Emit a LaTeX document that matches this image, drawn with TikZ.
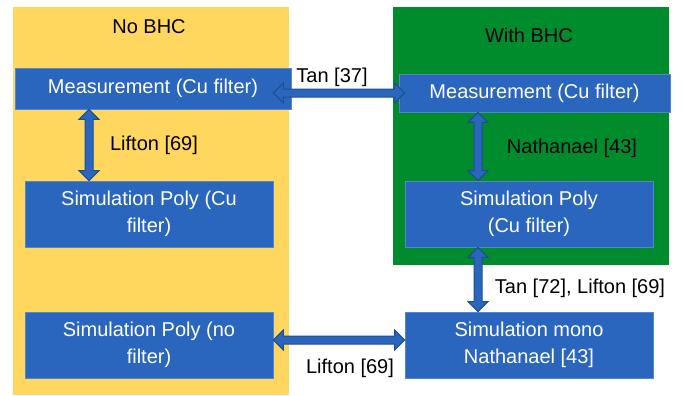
\documentclass[tikz,border=0pt]{standalone}
\usepackage{fontspec}
\setmainfont{Liberation Sans}
\usepackage{tikz}
\usetikzlibrary{calc}
\definecolor{boxblue}{HTML}{2A66BE}
\definecolor{edgeblue}{HTML}{1F4E8F}
\definecolor{panelyellow}{HTML}{FFD75F}
\definecolor{panelgreen}{HTML}{008C2C}
\newcommand{\dblarrow}[2]{%
\coordinate (p) at ($(#1)!5pt!(#2)$);
\coordinate (q) at ($(#2)!5pt!(#1)$);
\filldraw[bigarrow] (#1) -- ($(p)!5pt!90:(#1)$) -- ($(p)!2pt!90:(#1)$) -- ($(q)!2pt!-90:(#2)$) -- ($(q)!5pt!-90:(#2)$) -- (#2) -- ($(q)!5pt!90:(#2)$) -- ($(q)!2pt!90:(#2)$) -- ($(p)!2pt!-90:(#1)$) -- ($(p)!5pt!-90:(#1)$) -- cycle;}

\begin{document}
\begin{tikzpicture}[x = 0.5pt, y = -0.5pt,
  font = \fontsize{10}{13.5}\selectfont,
  box/.style = {fill = boxblue, draw = boxblue!80!white, line width = 0.3pt, text = white, align = center, inner sep = 0pt, minimum width = 124pt, minimum height = 33pt},
  bigarrow/.style = {fill = boxblue, draw = edgeblue, line width = 0.5pt, line join = miter},
  tag/.style = {inner sep = 0pt}]
\useasboundingbox (0, 0) rectangle (686, 396);
\fill[panelyellow] (13, 7) rectangle (289, 395);
\fill[panelgreen] (393, 7) rectangle (669, 265);
\node[tag] (nobhc) at (149, 27) {No BHC};
\node[tag] (withbhc) at (529, 35) {With BHC};
\node[box, minimum width = 138pt, minimum height = 20.5pt] (lmeas) at (153, 88.5) {Measurement (Cu filter)};
\node[box, minimum width = 135.5pt, minimum height = 19pt] (rmeas) at (534.5, 93) {Measurement (Cu filter)};
\node[box] (lsim) at (149, 214) {Simulation Poly (Cu\\filter)};
\node[box] (rsim) at (529, 214) {Simulation Poly\\(Cu filter)};
\node[box] (lnof) at (149, 345) {Simulation Poly (no\\filter)};
\node[box] (mono) at (529, 345) {Simulation mono\\Nathanael [43]};
\coordinate (a1) at ([xshift = -32pt]lmeas.south);
\dblarrow{a1}{a1 |- lsim.north}
\coordinate (a2) at ([xshift = -25.5pt]rsim.north);
\dblarrow{a2 |- rmeas.south}{a2}
\coordinate (a3) at ([xshift = -25.5pt]rsim.south);
\dblarrow{a3}{a3 |- mono.north}
\coordinate (a4) at (lsim.east |- rmeas.west);
\dblarrow{a4}{rsim.west |- rmeas.west}
\coordinate (a5) at ([yshift = 2.5pt]lnof.east);
\dblarrow{a5}{a5 -| mono.west}
\node[tag] (tan) at (332, 77) {Tan [37]};
\node[tag] (lifton) at (154, 145) {Lifton [69]};
\node[tag] (nath) at (572, 148) {Nathanael [43]};
\node[tag] (tanlifton) at (580, 288) {Tan [72], Lifton [69]};
\node[tag] (liftonb) at (350, 368) {Lifton [69]};
\end{tikzpicture}
\end{document}
